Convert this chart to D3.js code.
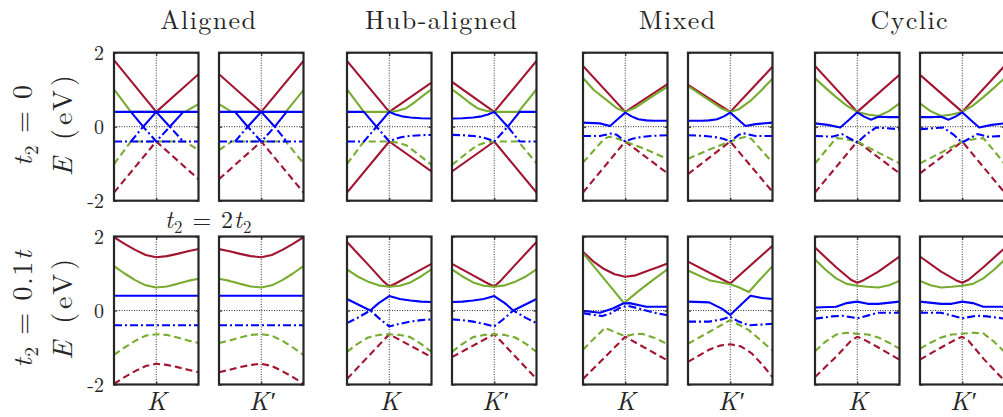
<!DOCTYPE html>
<html>
<head>
<meta charset="utf-8">
<script src="https://cdn.jsdelivr.net/npm/d3@7"></script>
<style>
  body { margin: 0; background: #fff; }
  svg { display: block; }
  text { font-family: "Latin Modern Roman", "CMU Serif", "Liberation Serif", "Times New Roman", serif; fill: #262626; }
</style>
</head>
<body>
<svg id="chart" width="1003" height="417"></svg>
<script>
// ---- labels ----
const schemes = ["Aligned", "Hub-aligned", "Mixed", "Cyclic"];
const valleys = ["K", "K\u2032"];
const energyTicks = [-2, 0, 2];

// ---- band energies E(k) in eV, k runs across each valley window (-1 .. 1) ----
// band order: c3, c2, c1 (conduction) then v1, v2, v3 (valence); null breaks a line
const alignedK0 = [
  [[-1,1.80],[0,0.40],[1,1.42]],
  [[-1,1.01],[-0.6,0.40],[0.68,0.40],[1,0.61]],
  [[-1,0.40],[1,0.40],null,[-0.6,0.40],[-0.31,0],[0,0.40],[0.32,0],[0.64,0.40]],
  [[-1,-0.40],[1,-0.40],null,[-0.6,-0.40],[-0.31,0],[0,-0.40],[0.32,0],[0.64,-0.40]],
  [[-1,-1.01],[-0.6,-0.40],[0.68,-0.40],[1,-0.63]],
  [[-1,-1.78],[0,-0.40],[1,-1.42]]
];
const alignedKp0 = [
  [[-1,1.42],[0,0.40],[1,1.78]],
  [[-1,0.61],[-0.7,0.40],[0.58,0.40],[1,0.99]],
  [[-1,0.40],[1,0.40],null,[-0.62,0.40],[-0.32,0],[0,0.40],[0.32,0],[0.6,0.40]],
  [[-1,-0.40],[1,-0.40],null,[-0.62,-0.40],[-0.32,0],[0,-0.40],[0.32,0],[0.6,-0.40]],
  [[-1,-0.63],[-0.7,-0.40],[0.58,-0.40],[1,-0.99]],
  [[-1,-1.42],[0,-0.40],[1,-1.78]]
];
const hubK0 = [
  [[-1,1.78],[0,0.40],[1,1.19]],
  [[-1,1.01],[-0.6,0.40],[0,0.40],[0.2,0.43],[0.4,0.50],[0.6,0.66],[0.8,0.84],[1,1.01]],
  [[-1,0.40],[-0.6,0.40],[-0.3,0],[0,0.40],[0.15,0.33],[0.3,0.28],[0.5,0.25],[0.75,0.23],[1,0.22]],
  [[-1,-0.40],[-0.6,-0.40],[-0.3,0],[0,-0.40],[0.15,-0.33],[0.3,-0.28],[0.5,-0.25],[0.75,-0.23],[1,-0.22]],
  [[-1,-1.01],[-0.6,-0.40],[0,-0.40],[0.2,-0.43],[0.4,-0.50],[0.6,-0.67],[0.8,-0.85],[1,-1.03]],
  [[-1,-1.78],[0,-0.40],[1,-1.21]]
];
const hubKp0 = [
  [[-1,1.21],[0,0.40],[1,1.78]],
  [[-1,1.01],[-0.8,0.84],[-0.6,0.66],[-0.4,0.50],[-0.2,0.43],[0,0.40],[0.57,0.40],[1,1.01]],
  [[-1,0.22],[-0.75,0.23],[-0.5,0.25],[-0.3,0.28],[-0.15,0.33],[0,0.40],[0.32,0],[0.6,0.40],[1,0.40]],
  [[-1,-0.22],[-0.75,-0.23],[-0.5,-0.25],[-0.3,-0.28],[-0.15,-0.33],[0,-0.40],[0.32,0],[0.6,-0.40],[1,-0.40]],
  [[-1,-1.03],[-0.8,-0.85],[-0.6,-0.67],[-0.4,-0.50],[-0.2,-0.43],[0,-0.40],[0.57,-0.40],[1,-0.99]],
  [[-1,-1.21],[0,-0.40],[1,-1.78]]
];
const mixedK0 = [
  [[-1,1.64],[0,0.40],[1,1.15]],
  [[-1,1.32],[-0.75,1.00],[-0.44,0.72],[-0.2,0.50],[0,0.40],[0.25,0.52],[0.51,0.72],[0.75,0.90],[1,1.08]],
  [[-1,0.11],[-0.6,0.09],[-0.36,0.02],[-0.2,0.18],[0,0.38],[0.15,0.28],[0.31,0.20],[0.5,0.17],[0.67,0.16],[1,0.16]],
  [[-1,-0.25],[-0.6,-0.25],[-0.32,-0.18],[-0.2,-0.22],[0,-0.40],[0.15,-0.33],[0.31,-0.29],[0.6,-0.25],[1,-0.23]],
  [[-1,-0.97],[-0.75,-0.65],[-0.5,-0.33],[-0.38,-0.27],[-0.2,-0.32],[0,-0.40],[0.5,-0.62],[1,-0.87]],
  [[-1,-1.78],[0,-0.40],[1,-1.26]]
];
const mixedKp0 = [
  [[-1,1.13],[0,0.40],[1,1.62]],
  [[-1,1.10],[-0.5,0.72],[-0.2,0.49],[0,0.40],[0.2,0.47],[0.5,0.72],[0.75,1.00],[1,1.30]],
  [[-1,0.16],[-0.67,0.16],[-0.5,0.17],[-0.31,0.20],[-0.15,0.28],[0,0.38],[0.2,0.18],[0.36,0.02],[0.6,0.07],[1,0.11]],
  [[-1,-0.23],[-0.6,-0.25],[-0.31,-0.29],[-0.15,-0.33],[0,-0.40],[0.2,-0.22],[0.32,-0.18],[0.6,-0.25],[1,-0.25]],
  [[-1,-0.87],[-0.5,-0.62],[0,-0.40],[0.2,-0.32],[0.38,-0.27],[0.5,-0.33],[0.75,-0.65],[1,-0.97]],
  [[-1,-1.28],[0,-0.40],[1,-1.76]]
];
const cyclicK0 = [
  [[-1,1.64],[0,0.40],[1,1.40]],
  [[-1,1.31],[-0.75,1.05],[-0.5,0.80],[-0.25,0.57],[0,0.40],[0.25,0.33],[0.5,0.29],[0.75,0.42],[1,0.63]],
  [[-1,0.09],[-0.7,0.05],[-0.4,-0.02],[-0.2,0.18],[0,0.39],[0.15,0.28],[0.32,0.19],[0.5,0.27],[0.75,0.26],[1,0.26]],
  [[-1,-0.25],[-0.6,-0.27],[-0.36,-0.20],[-0.2,-0.30],[0,-0.43],[0.2,-0.22],[0.45,-0.02],[0.7,-0.04],[1,-0.07]],
  [[-1,-1.00],[-0.75,-0.65],[-0.5,-0.31],[-0.3,-0.33],[0,-0.40],[0.5,-0.70],[1,-0.99]],
  [[-1,-1.78],[0,-0.40],[1,-1.26]]
];
const cyclicKp0 = [
  [[-1,1.40],[0,0.40],[1,1.64]],
  [[-1,0.63],[-0.75,0.42],[-0.5,0.29],[-0.25,0.33],[0,0.40],[0.25,0.57],[0.5,0.80],[0.75,1.05],[1,1.31]],
  [[-1,0.26],[-0.75,0.26],[-0.5,0.27],[-0.32,0.19],[-0.15,0.28],[0,0.39],[0.2,0.18],[0.4,-0.02],[0.7,0.05],[1,0.09]],
  [[-1,-0.07],[-0.7,-0.04],[-0.45,-0.02],[-0.2,-0.22],[0,-0.43],[0.2,-0.30],[0.36,-0.20],[0.6,-0.27],[1,-0.25]],
  [[-1,-0.99],[-0.5,-0.70],[0,-0.40],[0.3,-0.33],[0.5,-0.31],[0.75,-0.65],[1,-1.00]],
  [[-1,-1.26],[0,-0.40],[1,-1.78]]
];

const alignedK1 = [
  [[-1,1.98],[-0.75,1.80],[-0.5,1.64],[-0.25,1.50],[0,1.44],[0.25,1.47],[0.5,1.53],[0.75,1.60],[1,1.66]],
  [[-1,1.20],[-0.75,1.00],[-0.5,0.82],[-0.25,0.68],[0,0.62],[0.25,0.65],[0.5,0.72],[0.75,0.80],[1,0.86]],
  [[-1,0.40],[1,0.40]],
  [[-1,-0.40],[1,-0.40]],
  [[-1,-1.20],[-0.75,-1.00],[-0.5,-0.82],[-0.25,-0.68],[0,-0.64],[0.25,-0.66],[0.5,-0.73],[0.75,-0.81],[1,-0.88]],
  [[-1,-1.98],[-0.75,-1.80],[-0.5,-1.64],[-0.25,-1.50],[0,-1.44],[0.25,-1.47],[0.5,-1.53],[0.75,-1.60],[1,-1.67]]
];
const alignedKp1 = [
  [[-1,1.66],[-0.75,1.60],[-0.5,1.53],[-0.25,1.47],[0,1.44],[0.25,1.50],[0.5,1.64],[0.75,1.80],[1,1.98]],
  [[-1,0.86],[-0.75,0.80],[-0.5,0.72],[-0.25,0.65],[0,0.62],[0.25,0.68],[0.5,0.82],[0.75,1.00],[1,1.20]],
  [[-1,0.40],[1,0.40]],
  [[-1,-0.40],[1,-0.40]],
  [[-1,-0.88],[-0.75,-0.81],[-0.5,-0.73],[-0.25,-0.66],[0,-0.64],[0.25,-0.68],[0.5,-0.82],[0.75,-1.00],[1,-1.20]],
  [[-1,-1.67],[-0.75,-1.60],[-0.5,-1.53],[-0.25,-1.47],[0,-1.44],[0.25,-1.50],[0.5,-1.64],[0.75,-1.80],[1,-1.98]]
];
const hubK1 = [
  [[-1,1.85],[-0.5,1.24],[-0.15,0.80],[0,0.65],[0.15,0.73],[0.5,0.95],[1,1.26]],
  [[-1,1.11],[-0.75,0.92],[-0.5,0.78],[-0.25,0.68],[0,0.64],[0.25,0.67],[0.5,0.76],[0.75,0.92],[1,1.11]],
  [[-1,0.31],[-0.75,0.17],[-0.45,0],[-0.25,0.20],[0,0.39],[0.25,0.31],[0.5,0.27],[0.75,0.24],[1,0.23]],
  [[-1,-0.34],[-0.75,-0.20],[-0.45,0],[-0.2,-0.25],[0,-0.43],[0.25,-0.36],[0.5,-0.30],[0.75,-0.26],[1,-0.24]],
  [[-1,-1.12],[-0.75,-0.90],[-0.5,-0.73],[-0.25,-0.66],[0,-0.64],[0.25,-0.66],[0.5,-0.72],[0.75,-0.90],[1,-1.12]],
  [[-1,-1.85],[0,-0.64],[1,-1.26]]
];
const hubKp1 = [
  [[-1,1.26],[-0.5,0.95],[-0.15,0.73],[0,0.65],[0.15,0.80],[0.5,1.24],[1,1.85]],
  [[-1,1.11],[-0.75,0.92],[-0.5,0.76],[-0.25,0.67],[0,0.64],[0.25,0.68],[0.5,0.78],[0.75,0.92],[1,1.11]],
  [[-1,0.23],[-0.75,0.24],[-0.5,0.27],[-0.25,0.31],[0,0.39],[0.25,0.20],[0.45,0],[0.75,0.17],[1,0.31]],
  [[-1,-0.24],[-0.75,-0.26],[-0.5,-0.30],[-0.25,-0.36],[0,-0.43],[0.2,-0.25],[0.45,0],[0.75,-0.20],[1,-0.34]],
  [[-1,-1.12],[-0.75,-0.90],[-0.5,-0.72],[-0.25,-0.66],[0,-0.64],[0.25,-0.66],[0.5,-0.73],[0.75,-0.90],[1,-1.12]],
  [[-1,-1.26],[0,-0.64],[1,-1.85]]
];
const mixedK1 = [
  [[-1,1.59],[-0.75,1.32],[-0.5,1.12],[-0.25,0.98],[0,0.91],[0.25,0.95],[0.5,1.06],[0.75,1.16],[1,1.27]],
  [[-1,1.55],[-0.28,0.55],[-0.03,0.20],[0.32,0.53],[0.65,0.82],[1,1.11]],
  [[-1,-0.01],[-0.6,-0.06],[-0.28,0.06],[-0.05,0.19],[0.1,0.20],[0.5,0.10],[1,0.10]],
  [[-1,-0.07],[-0.75,-0.12],[-0.55,-0.15],[-0.35,-0.08],[-0.15,0.06],[0.05,0.13],[0.3,0.06],[0.65,-0.05],[1,-0.13]],
  [[-1,-1.06],[-0.75,-0.77],[-0.48,-0.47],[-0.25,-0.58],[0,-0.70],[0.2,-0.64],[0.4,-0.63],[0.7,-0.74],[1,-0.91]],
  [[-1,-1.85],[0,-0.71],[1,-1.35]]
];
const mixedKp1 = [
  [[-1,1.32],[0,0.73],[1,1.75]],
  [[-1,1.08],[-0.5,0.82],[0,0.71],[0.2,0.63],[0.44,0.50],[0.7,0.83],[1,1.20]],
  [[-1,0.24],[-0.5,0.22],[-0.2,0.05],[0,-0.12],[0.24,0.14],[0.48,0.40],[0.75,0.34],[1,0.31]],
  [[-1,-0.30],[-0.5,-0.30],[-0.2,-0.24],[0,-0.17],[0.2,-0.30],[0.45,-0.40],[1,-0.36]],
  [[-1,-0.90],[-0.5,-0.58],[0,-0.26],[0.44,-0.53],[1,-1.08]],
  [[-1,-1.39],[-0.5,-1.06],[-0.25,-0.95],[0,-0.91],[0.25,-0.97],[0.5,-1.15],[0.75,-1.45],[1,-1.80]]
];
const cyclicK1 = [
  [[-1,1.70],[-0.5,1.17],[-0.15,0.83],[0,0.75],[0.15,0.82],[0.5,1.05],[1,1.46]],
  [[-1,1.38],[-0.75,1.10],[-0.5,0.87],[-0.25,0.72],[0,0.67],[0.25,0.64],[0.5,0.62],[0.75,0.68],[1,0.80]],
  [[-1,0.08],[-0.5,0.10],[-0.25,0.20],[0,0.24],[0.25,0.18],[0.5,0.18],[1,0.24]],
  [[-1,-0.22],[-0.6,-0.16],[-0.35,-0.14],[0,-0.21],[0.5,-0.06],[1,-0.06]],
  [[-1,-1.10],[-0.75,-0.84],[-0.5,-0.65],[-0.25,-0.60],[0,-0.63],[0.25,-0.65],[0.5,-0.73],[0.75,-0.87],[1,-1.03]],
  [[-1,-1.80],[-0.5,-1.25],[-0.15,-0.82],[0,-0.71],[0.15,-0.78],[0.5,-1.00],[1,-1.33]]
];
const cyclicKp1 = [
  [[-1,1.46],[-0.5,1.05],[-0.15,0.82],[0,0.75],[0.15,0.83],[0.5,1.17],[1,1.68]],
  [[-1,0.80],[-0.75,0.68],[-0.5,0.62],[-0.25,0.64],[0,0.67],[0.25,0.72],[0.5,0.87],[0.75,1.10],[1,1.37]],
  [[-1,0.24],[-0.5,0.18],[-0.25,0.18],[0,0.24],[0.25,0.20],[0.5,0.10],[1,0.10]],
  [[-1,-0.06],[-0.5,-0.06],[0,-0.21],[0.35,-0.14],[0.6,-0.16],[1,-0.22]],
  [[-1,-1.03],[-0.75,-0.87],[-0.5,-0.73],[-0.25,-0.65],[0,-0.63],[0.25,-0.60],[0.5,-0.62],[0.75,-0.84],[1,-1.12]],
  [[-1,-1.33],[-0.5,-1.00],[-0.15,-0.78],[0,-0.71],[0.15,-0.82],[0.5,-1.30],[1,-1.90]]
];

const panelRows = [
  [alignedK0, alignedKp0, hubK0, hubKp0, mixedK0, mixedKp0, cyclicK0, cyclicKp0],
  [alignedK1, alignedKp1, hubK1, hubKp1, mixedK1, mixedKp1, cyclicK1, cyclicKp1]
];

// ---- styling ----
const bandColor = ["#A2142F", "#77AC30", "#0000FF", "#0000FF", "#77AC30", "#A2142F"];
const bandDash  = [null, null, null, "8,3,2,3", "7,4", "7,4"];
const drawOrder = [5, 4, 0, 1, 3, 2];
const solidLowerRed = new Set(["0-2", "0-3"]);   // hub-aligned, t2 = 0
const ink = "#262626";

// ---- layout ----
const W = 84.5, H = 148;
const groupLeft = [114, 347, 583, 815];
const pairStep = 105;
const rowTop = [52.7, 236.5];

const svg = d3.select("#chart");
const x = d3.scaleLinear().domain([-1, 1]).range([0, W]);
const y = d3.scaleLinear().domain([-2, 2]).range([H, 0]);
const line = d3.line().defined(d => d !== null).x(d => x(d[0])).y(d => y(d[1]));

// math-style text built from [string, style] pieces
function mathText(sel, parts, size) {
  parts.forEach(([s, st], i) => {
    const prev = i > 0 ? parts[i - 1][1] : "";
    const t = sel.append("tspan").text(s);
    if (st === "i") t.attr("font-style", "italic");
    if (st === "sub") t.attr("font-size", size * 0.7).attr("dy", size * 0.22);
    else if (prev === "sub") t.attr("dy", -size * 0.22);
  });
}

panelRows.forEach((row, r) => {
  row.forEach((bands, p) => {
    const grp = Math.floor(p / 2), v = p % 2;
    const left = groupLeft[grp] + v * pairStep;
    const g = svg.append("g").attr("transform", `translate(${left},${rowTop[r]})`);
    const clipId = `clip-${r}-${p}`;
    g.append("clipPath").attr("id", clipId)
      .append("rect").attr("width", W).attr("height", H);

    // dotted grid at k = 0 and E = 0
    g.append("line").attr("x1", x(0)).attr("x2", x(0)).attr("y1", 0).attr("y2", H)
      .attr("stroke", "#333").attr("stroke-width", 1).attr("stroke-dasharray", "1,1.5");
    g.append("line").attr("x1", 0).attr("x2", W).attr("y1", y(0)).attr("y2", y(0))
      .attr("stroke", "#333").attr("stroke-width", 1).attr("stroke-dasharray", "1,1.5");

    const body = g.append("g").attr("clip-path", `url(#${clipId})`);
    drawOrder.forEach(b => {
      let dash = bandDash[b];
      if (b === 5 && solidLowerRed.has(`${r}-${p}`)) dash = null;
      body.append("path")
        .attr("d", line(bands[b]))
        .attr("fill", "none")
        .attr("stroke", bandColor[b])
        .attr("stroke-width", 2.1)
        .attr("stroke-linejoin", "round")
        .attr("stroke-dasharray", dash);
    });

    // axes with inward ticks
    const axB = d3.axisBottom(x).tickValues([0]).tickSize(-3).tickPadding(0)
      .tickFormat(() => (r === 1 ? valleys[v] : ""));
    const gb = g.append("g").attr("transform", `translate(0,${H})`).call(axB);
    const axT = d3.axisTop(x).tickValues([0]).tickSize(-3).tickFormat(() => "");
    g.append("g").call(axT);
    const axL = d3.axisLeft(y).tickValues(energyTicks).tickSize(-3).tickPadding(10)
      .tickFormat(d => (p === 0 ? String(d) : ""));
    const gl = g.append("g").call(axL);
    const axR = d3.axisRight(y).tickValues(energyTicks).tickSize(-3).tickFormat(() => "");
    g.append("g").attr("transform", `translate(${W},0)`).call(axR);

    g.selectAll(".domain").remove();
    g.selectAll(".tick line").attr("stroke", ink).attr("stroke-width", 1.2);
    gb.selectAll("text").attr("dy", null).attr("y", 25)
      .attr("font-size", 26).attr("font-style", "italic").attr("fill", ink);
    gl.selectAll("text").attr("font-size", 20).attr("fill", ink).attr("dy", "0.34em");

    // frame
    g.append("rect").attr("width", W).attr("height", H)
      .attr("fill", "none").attr("stroke", ink).attr("stroke-width", 2.2);
  });
});

// column titles
schemes.forEach((s, i) => {
  svg.append("text")
    .attr("x", groupLeft[i] + (pairStep + W) / 2)
    .attr("y", 29)
    .attr("text-anchor", "middle")
    .attr("font-size", 26)
    .attr("letter-spacing", 1.4)
    .text(s);
});

// row labels (rotated), centred on each row of panels
const rowLabels = [
  [["t", "i"], ["2", "sub"], [" = 0", ""]],
  [["t", "i"], ["2", "sub"], [" = 0.1", ""], ["t", "i"]]
];
const energyLabel = [["E", "i"], [" (eV)", ""]];
rowLabels.forEach((parts, r) => {
  const cy = rowTop[r] + H / 2 - 2;
  const t1 = svg.append("text").attr("text-anchor", "middle").attr("font-size", 28)
    .attr("letter-spacing", 1.5)
    .attr("transform", `translate(32,${cy}) rotate(-90)`);
  mathText(t1, parts, 28);
  const t2 = svg.append("text").attr("text-anchor", "middle").attr("font-size", 28)
    .attr("letter-spacing", 4)
    .attr("transform", `translate(72,${cy - 1}) rotate(-90)`);
  mathText(t2, energyLabel, 28);
});

// hopping note between the two rows of the first column
const note = [["t", "i"], ["2", "sub"], [" = 2", ""], ["t", "i"], ["2", "sub"]];
const nt = svg.append("text").attr("text-anchor", "middle").attr("font-size", 24)
  .attr("letter-spacing", 1)
  .attr("x", groupLeft[0] + (pairStep + W) / 2).attr("y", 228);
mathText(nt, note, 24);
</script>
</body>
</html>
